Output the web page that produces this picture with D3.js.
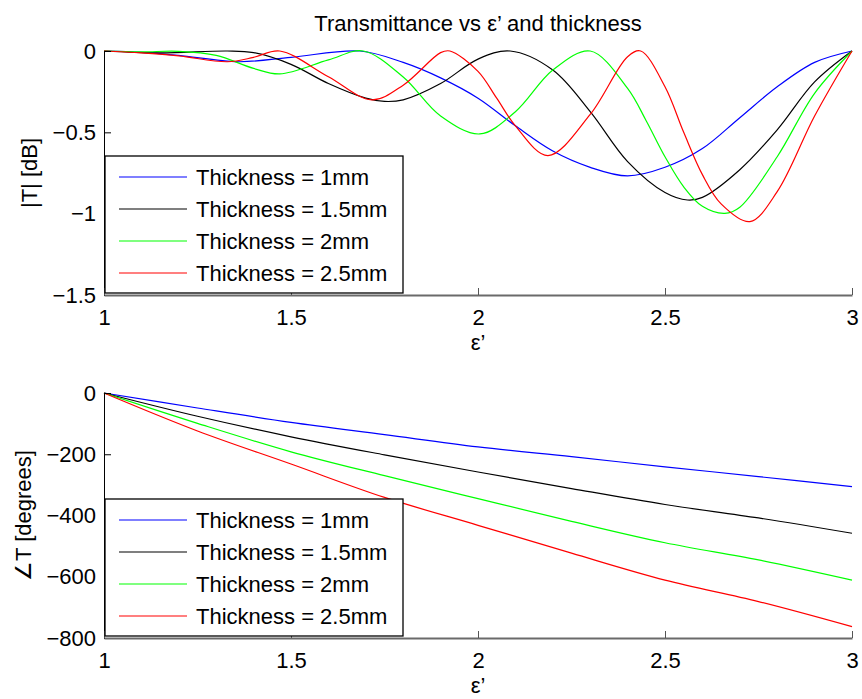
<!DOCTYPE html>
<html>
<head>
<meta charset="utf-8">
<script src="https://cdn.jsdelivr.net/npm/d3@7"></script>
<style>
  html, body { margin: 0; padding: 0; background: #fff; }
  svg { display: block; font-family: "Liberation Sans", Arial, Helvetica, sans-serif; }
</style>
</head>
<body>
<script>
// ---- data: transmittance magnitude (dB) vs relative permittivity ----
const seriesNames = ["Thickness = 1mm", "Thickness = 1.5mm", "Thickness = 2mm", "Thickness = 2.5mm"];
const seriesColors = ["#0000ff", "#000000", "#00ff00", "#ff0000"];

const mag1mmEps = [1, 1.1, 1.2, 1.36, 1.5, 1.684, 1.8, 1.9, 2.0, 2.1, 2.2, 2.3, 2.4, 2.5, 2.6, 2.7, 2.8, 2.9, 3];
const mag1mm    = [0, -0.008, -0.027, -0.066, -0.039, 0, -0.07, -0.165, -0.29, -0.46, -0.615, -0.715, -0.768, -0.715, -0.60, -0.41, -0.22, -0.07, 0];

const mag15mmEps = [1, 1.15, 1.33, 1.4, 1.5, 1.6, 1.7, 1.75, 1.8, 1.9, 2.0, 2.086, 2.2, 2.3, 2.4, 2.5, 2.56, 2.6, 2.7, 2.8, 2.9, 3];
const mag15mm    = [0, -0.012, 0, -0.01, -0.082, -0.2, -0.29, -0.31, -0.30, -0.20, -0.05, 0, -0.117, -0.373, -0.68, -0.87, -0.916, -0.90, -0.73, -0.485, -0.19, 0];

const mag2mmEps = [1, 1.1, 1.2, 1.3, 1.4, 1.47, 1.6, 1.693, 1.8, 1.9, 2.005, 2.1, 2.2, 2.3, 2.4, 2.45, 2.5, 2.55, 2.6, 2.66, 2.7, 2.8, 2.9, 3];
const mag2mm    = [0, -0.005, -0.002, -0.027, -0.107, -0.141, -0.055, 0, -0.16, -0.40, -0.51, -0.373, -0.117, 0, -0.23, -0.43, -0.65, -0.835, -0.955, -0.998, -0.96, -0.65, -0.26, 0];

const mag25mmEps = [1, 1.1, 1.2, 1.33, 1.4, 1.47, 1.6, 1.716, 1.8, 1.9, 1.925, 2.0, 2.05, 2.1, 2.187, 2.3, 2.4, 2.435, 2.5, 2.55, 2.6, 2.65, 2.727, 2.8, 2.9, 3];
const mag25mm    = [0, -0.012, -0.03, -0.066, -0.039, 0, -0.158, -0.30, -0.21, -0.01, 0, -0.125, -0.29, -0.46, -0.643, -0.39, -0.035, 0, -0.22, -0.50, -0.76, -0.94, -1.049, -0.865, -0.40, 0];

// ---- data: transmittance phase (degrees) vs relative permittivity ----
const phaseEps = [1, 1.25, 1.5, 1.75, 2, 2.25, 2.5, 2.75, 3];
const phase1mm  = [0, -49, -96, -136, -176, -208, -241, -273, -306];
const phase15mm = [0, -76, -143, -202, -258, -312, -364, -408, -458];
const phase2mm  = [0, -99, -192, -270, -345, -419, -489, -545, -611];
const phase25mm = [0, -124, -232, -341, -432, -523, -611, -681, -763];

// ---- tick values ----
const epsTicks = [1, 1.5, 2, 2.5, 3];
const magTicks = [-1.5, -1, -0.5, 0];
const phaseTicks = [-800, -600, -400, -200, 0];

// ---- layout ----
const W = 862, H = 699;
const FONT = 22;
const svg = d3.select("body").append("svg").attr("width", W).attr("height", H);

const x = d3.scaleLinear().domain([1, 3]).range([104, 852]);
const yMag = d3.scaleLinear().domain([-1.5, 0]).range([295, 51]);
const yPhase = d3.scaleLinear().domain([-800, 0]).range([638, 393]);
const fmt = d3.format("~g");

const magSeries = [
  [mag1mmEps, mag1mm], [mag15mmEps, mag15mm], [mag2mmEps, mag2mm], [mag25mmEps, mag25mm]
];
const phaseSeries = [
  [phaseEps, phase1mm], [phaseEps, phase15mm], [phaseEps, phase2mm], [phaseEps, phase25mm]
];

function drawPanel(y, yTicks, series, yLabel, yLabelX, title) {
  const g = svg.append("g");
  const [y0, y1] = y.range();

  // curves
  const line = d3.line()
    .x(d => x(d[0]))
    .y(d => y(d[1]))
    .curve(d3.curveCatmullRom.alpha(0.5));
  series.forEach(([xs, ys], i) => {
    g.append("path")
      .attr("d", line(xs.map((v, k) => [v, ys[k]])))
      .attr("fill", "none")
      .attr("stroke", seriesColors[i])
      .attr("stroke-width", 1.2);
  });

  // y axis (ticks pointing inward)
  const ya = g.append("g")
    .attr("transform", `translate(${x.range()[0]},0)`)
    .call(d3.axisLeft(y).tickValues(yTicks).tickFormat(fmt).tickSizeInner(-7).tickSizeOuter(0).tickPadding(8));
  ya.select(".domain").attr("stroke", "#000").attr("stroke-width", 1);
  ya.selectAll(".tick line").attr("stroke", "#000");
  ya.selectAll("text").attr("font-size", FONT).attr("fill", "#000").attr("font-family", null);

  // x axis (ticks pointing inward)
  const xa = g.append("g")
    .attr("transform", `translate(0,${y0})`)
    .call(d3.axisBottom(x).tickValues(epsTicks).tickFormat(fmt).tickSizeInner(-7).tickSizeOuter(0).tickPadding(14));
  xa.select(".domain").attr("stroke", "#6a6a6a").attr("stroke-width", 2);
  xa.selectAll(".tick line").attr("stroke", "#555");
  xa.selectAll("text").attr("font-size", FONT).attr("fill", "#000").attr("font-family", null);

  // legend
  const lx0 = 105, lx1 = 403;
  const lTop = y0 - 139, lBot = y0 - 2;
  const lg = g.append("g");
  lg.append("rect")
    .attr("x", lx0).attr("y", lTop)
    .attr("width", lx1 - lx0).attr("height", lBot - lTop)
    .attr("fill", "#fff").attr("stroke", "#000").attr("stroke-width", 1.3);
  seriesNames.forEach((name, i) => {
    const ry = lTop + 21 + i * 32;
    lg.append("line")
      .attr("x1", 119).attr("x2", 187).attr("y1", ry).attr("y2", ry)
      .attr("stroke", seriesColors[i]).attr("stroke-width", 1.2);
    lg.append("text")
      .attr("x", 196).attr("y", ry).attr("dy", "0.36em")
      .attr("font-size", FONT).attr("fill", "#000")
      .text(name);
  });

  // axis labels
  g.append("text")
    .attr("transform", `translate(${yLabelX},${(y0 + y1) / 2}) rotate(-90)`)
    .attr("text-anchor", "middle").attr("dy", "0.36em")
    .attr("font-size", FONT).attr("fill", "#000")
    .text(yLabel);
  g.append("text")
    .attr("x", x(2)).attr("y", y0 + 47).attr("dy", "0.36em")
    .attr("text-anchor", "middle")
    .attr("font-size", FONT).attr("fill", "#000")
    .text("ε’");

  if (title) {
    g.append("text")
      .attr("x", x(2)).attr("y", 23).attr("dy", "0.36em")
      .attr("text-anchor", "middle")
      .attr("font-size", FONT).attr("fill", "#000")
      .text(title);
  }
}

drawPanel(yMag, magTicks, magSeries, "|T| [dB]", 29, "Transmittance vs ε’ and thickness");
drawPanel(yPhase, phaseTicks, phaseSeries, "∠T [degrees]", 23, null);
</script>
</body>
</html>
